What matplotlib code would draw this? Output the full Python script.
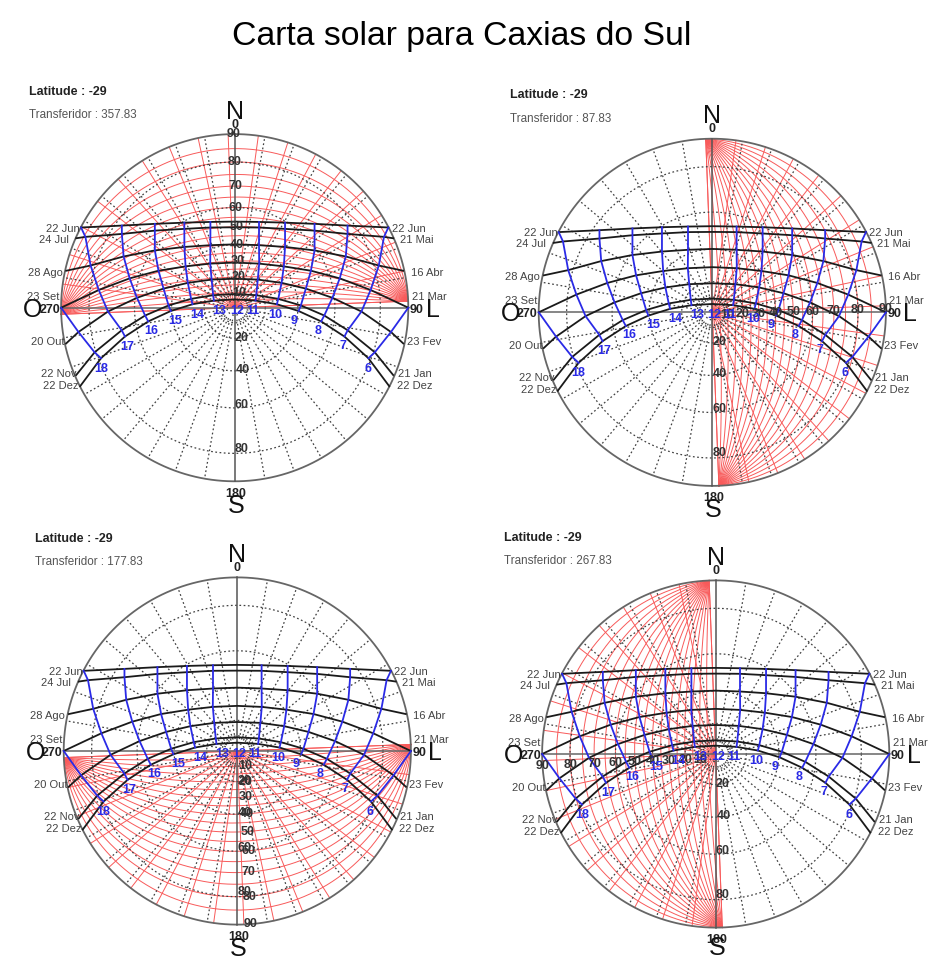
import numpy as np
import matplotlib
matplotlib.use('Agg')
import matplotlib.pyplot as plt

plt.rcParams['font.family'] = ['Liberation Sans', 'DejaVu Sans']

# date curves, right half, unit circle coords, hours 12, 11, 10, ... then end of the curve
jun_x = [0, .14, .29, .46, .65, .885]
jun_y = [.496, .494, .49, .483, .473, .462]
mai_x = [0, .14, .29, .46, .65, .86, .913]
mai_y = [.463, .462, .454, .444, .425, .408, .40]
abr_x = [0, .14, .29, .46, .64, .83, .97]
abr_y = [.365, .36, .35, .33, .295, .243, .213]
mar_x = [0, .141, .283, .439, .605, .783, 1.0]
mar_y = [.26, .254, .238, .213, .169, .102, 0]
fev_x = [0, .133, .27, .41, .563, .73, .9, .971]
fev_y = [.167, .162, .143, .11, .057, -.022, -.14, -.206]
jan_x = [0, .124, .251, .381, .516, .651, .807, .913]
jan_y = [.079, .072, .051, .013, -.045, -.13, -.257, -.388]
dez_x = [0, .12, .243, .368, .498, .632, .77, .89]
dez_y = [.048, .041, .02, -.019, -.079, -.166, -.291, -.452]
curves = [(jun_x, jun_y), (mai_x, mai_y), (abr_x, abr_y), (mar_x, mar_y),
          (fev_x, fev_y), (jan_x, jan_y), (dez_x, dez_y)]

right_dates = ['22 Jun', '21 Mai', '16 Abr', '21 Mar', '23 Fev', '21 Jan', '22 Dez']
left_dates = ['22 Jun', '24 Jul', '28 Ago', '23 Set', '20 Out', '22 Nov', '22 Dez']
hours = [18, 17, 16, 15, 14, 13, 12, 11, 10, 9, 8, 7, 6]
zenith_labels = [20, 40, 60, 80]
transfer_labels = [10, 20, 30, 40, 50, 60, 70, 80, 90]
angles = [357.83, 87.83, 177.83, 267.83]

# label places, pixels from the centre of a chart
right_pos = [(157, -79), (165, -68), (176, -35), (177, -11), (172, 34), (163, 66), (162, 78)]
left_pos = [(-155, -79), (-166, -68), (-172, -35), (-175, -11), (-170, 34), (-158, 66), (-156, 78)]
hour_pos = [(-134, 61), (-108, 39), (-83, 23), (-59, 13), (-37, 7), (-15, 3), (2, 3), (18, 3),
            (41, 7), (59, 13), (83, 23), (108, 38), (133, 61)]
zen_pos = [(7, 30), (8, 62), (7, 97), (7, 141)]

panels = [
    dict(cx=234.7, cy=307.7, head=(29, 92, 115), off=(5, 0), s_dy=198),
    dict(cx=712.3, cy=312.3, head=(510, 95, 119), off=(0, 3), s_dy=198),
    dict(cx=237.3, cy=751.0, head=(35, 539, 562), off=(7, 0), s_dy=198),
    dict(cx=715.7, cy=754.0, head=(504, 538, 561), off=(0, 5), s_dy=194),
]
R = 173.6
GREY = '#404040'
RED = '#f85a5a'
DOTS = (0, (1.4, 2.0))

fig = plt.figure(figsize=(9.29, 9.61), dpi=100)
ax = fig.add_axes([0, 0, 1, 1])
ax.set_xlim(0, 929)
ax.set_ylim(961, 0)
ax.axis('off')


def stereo(z):
    return np.tan(np.radians(z) / 2)


def draw_transfer(cx, cy, angle):
    th = np.radians(angle)

    def put(X, Y):
        xr = X * np.cos(th) + Y * np.sin(th)
        yr = -X * np.sin(th) + Y * np.cos(th)
        return cx + R * xr, cy - R * yr

    for v in np.arange(0, 90, 5):
        if v == 0:
            X, Y = np.array([-1.0, 1.0]), np.array([0.0, 0.0])
        else:
            r = stereo(v)
            c = (r * r - 1) / (2 * r)
            rad = (1 + r * r) / (2 * r)
            a0 = np.arctan2(-c, 1)
            t = np.linspace(a0, np.pi - a0, 80)
            X, Y = rad * np.cos(t), c + rad * np.sin(t)
        ax.plot(*put(X, Y), color=RED, lw=0.7, zorder=1)
    for a in np.arange(-90, 91, 10):
        ar = np.radians(a)
        ax.plot(*put(np.array([0, np.sin(ar)]), np.array([0, np.cos(ar)])),
                color=RED, lw=0.7, zorder=1)


def draw_grid(cx, cy):
    t = np.linspace(0, 2 * np.pi, 200)
    for z in [5, 10, 20, 40, 60, 80]:
        r = stereo(z) * R
        ax.plot(cx + r * np.cos(t), cy + r * np.sin(t), color=GREY, lw=0.9,
                ls=DOTS, zorder=2)
    for a in np.arange(0, 360, 10):
        if a % 90 == 0:
            continue
        ar = np.radians(a)
        r0 = stereo(8) * R
        ax.plot([cx + r0 * np.sin(ar), cx + R * np.sin(ar)],
                [cy - r0 * np.cos(ar), cy - R * np.cos(ar)],
                color=GREY, lw=0.9, ls=DOTS, zorder=2)
    ax.plot(cx + R * np.cos(t), cy + R * np.sin(t), color='#666666', lw=1.3, zorder=3)
    ax.plot([cx - R, cx + R], [cy, cy], color='#666666', lw=1.1, zorder=3)
    ax.plot([cx, cx], [cy - R, cy + R], color='#555555', lw=1.1, zorder=3)


def draw_sun(cx, cy):
    for xs, ys in curves:
        xs, ys = np.array(xs), np.array(ys)
        fx = np.concatenate([-xs[::-1], xs[1:]])
        fy = np.concatenate([ys[::-1], ys[1:]])
        ax.plot(cx + R * fx, cy - R * fy, color='#1a1a1a', lw=1.3, zorder=4)
    # hour lines go through the same points of every date curve
    for i in range(1, 7):
        hx, hy = [], []
        for xs, ys in curves:
            if i == 6 and (len(xs) < 7 or xs is abr_x or xs is mai_x):
                continue
            hx.append(xs[i])
            hy.append(ys[i])
        hx, hy = np.array(hx), np.array(hy)
        for sign in (1, -1):
            ax.plot(cx + sign * R * hx, cy - R * hy, color='#2a2ae6', lw=1.3, zorder=5)


def draw_labels(p, angle):
    cx, cy = p['cx'], p['cy']
    hx, hy1, hy2 = p['head']
    ax.text(hx, hy1, 'Latitude : -29', fontsize=9, fontweight='bold', color='#222222', va='center')
    ax.text(hx, hy2, 'Transferidor : %.2f' % angle, fontsize=8.4, color='#555555', va='center')
    for txt, (dx, dy) in zip(right_dates, right_pos):
        ax.text(cx + dx, cy + dy, txt, fontsize=8, color='#444444', va='center', ha='left', zorder=6)
    for txt, (dx, dy) in zip(left_dates, left_pos):
        ax.text(cx + dx, cy + dy, txt, fontsize=8, color='#444444', va='center', ha='right', zorder=6)
    for h, (dx, dy) in zip(hours, hour_pos):
        ax.text(cx + dx, cy + dy, str(h), fontsize=9, fontweight='bold', color='#2a2ae6',
                va='center', ha='center', zorder=7)
    for z, (dx, dy) in zip(zenith_labels, zen_pos):
        ax.text(cx + dx, cy + dy, str(z), fontsize=9, fontweight='bold', color='#333333',
                va='center', ha='center', zorder=6)
    th = np.radians(angle)
    for v in transfer_labels:
        r = stereo(v) * R
        ax.text(cx + r * np.sin(th) + p['off'][0], cy - r * np.cos(th) + p['off'][1], str(v),
                fontsize=9, fontweight='bold', color='#333333', va='center', ha='center', zorder=6)
    for txt, dx, dy in [('0', 0, -183), ('180', 1, 186), ('270', -185, 2), ('90', 182, 2)]:
        ax.text(cx + dx, cy + dy, txt, fontsize=9, fontweight='bold', color='#222222',
                va='center', ha='center', zorder=6)
    for txt, dx, dy in [('N', 0, -196), ('S', 1, p['s_dy']), ('O', -202, 2), ('L', 198, 2)]:
        ax.text(cx + dx, cy + dy, txt, fontsize=18, color='#111111', va='center', ha='center', zorder=6)


for p, ang in zip(panels, angles):
    draw_transfer(p['cx'], p['cy'], ang)
    draw_grid(p['cx'], p['cy'])
    draw_sun(p['cx'], p['cy'])
    draw_labels(p, ang)

ax.text(462, 36, 'Carta solar para Caxias do Sul', fontsize=24.3, color='black', ha='center', va='center')

fig.savefig('out.png', dpi=100)
